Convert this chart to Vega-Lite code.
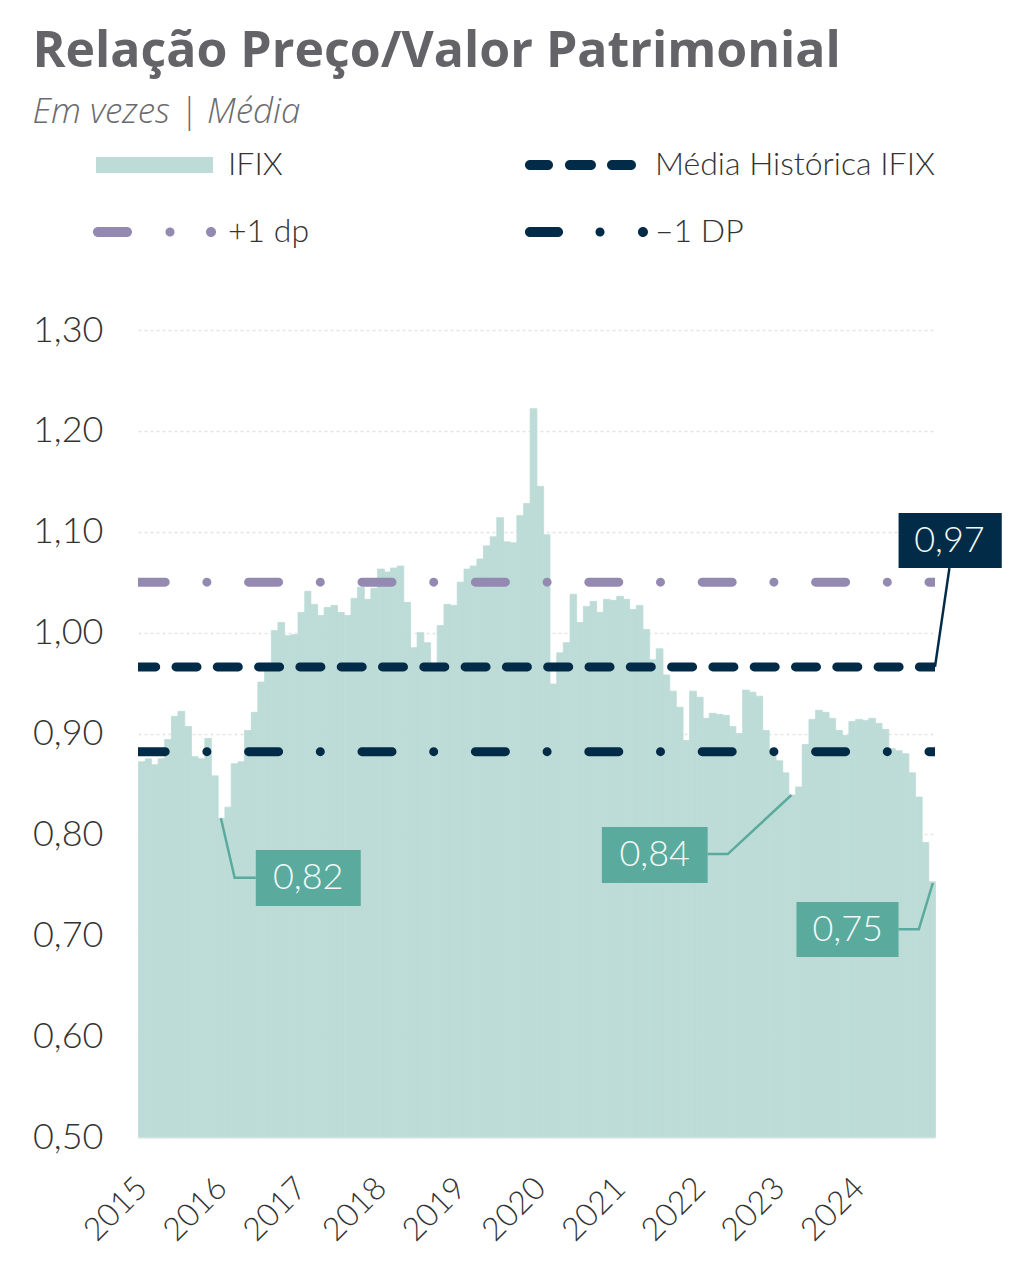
{
  "$schema": "https://vega.github.io/schema/vega-lite/v6.json",
  "width": 797,
  "height": 807,
  "padding": {"left": 32, "top": 27, "right": 9, "bottom": 5},
  "title": {
    "text": "Relação Preço/Valor Patrimonial",
    "subtitle": "Em vezes | Média",
    "anchor": "start",
    "frame": "bounds",
    "font": "Open Sans",
    "fontSize": 50,
    "fontWeight": "bold",
    "color": "#646468",
    "subtitleFont": "Open Sans",
    "subtitleFontSize": 35,
    "subtitleFontStyle": "italic",
    "subtitleFontWeight": 300,
    "subtitleColor": "#6b6b6e",
    "subtitlePadding": 18,
    "offset": 25
  },
  "datasets": {
    "ifix": [
      {"date": "2015-01-01", "pvp": 0.872}, {"date": "2015-02-01", "pvp": 0.875}, {"date": "2015-03-01", "pvp": 0.869},
      {"date": "2015-04-01", "pvp": 0.875}, {"date": "2015-05-01", "pvp": 0.894}, {"date": "2015-06-01", "pvp": 0.917},
      {"date": "2015-07-01", "pvp": 0.922}, {"date": "2015-08-01", "pvp": 0.907}, {"date": "2015-09-01", "pvp": 0.877},
      {"date": "2015-10-01", "pvp": 0.875}, {"date": "2015-11-01", "pvp": 0.895}, {"date": "2015-12-01", "pvp": 0.858},
      {"date": "2016-01-01", "pvp": 0.816}, {"date": "2016-02-01", "pvp": 0.827}, {"date": "2016-03-01", "pvp": 0.870},
      {"date": "2016-04-01", "pvp": 0.872}, {"date": "2016-05-01", "pvp": 0.903}, {"date": "2016-06-01", "pvp": 0.921},
      {"date": "2016-07-01", "pvp": 0.951}, {"date": "2016-08-01", "pvp": 0.962}, {"date": "2016-09-01", "pvp": 1.002},
      {"date": "2016-10-01", "pvp": 1.010}, {"date": "2016-11-01", "pvp": 0.997}, {"date": "2016-12-01", "pvp": 0.998},
      {"date": "2017-01-01", "pvp": 1.020}, {"date": "2017-02-01", "pvp": 1.041}, {"date": "2017-03-01", "pvp": 1.028},
      {"date": "2017-04-01", "pvp": 1.017}, {"date": "2017-05-01", "pvp": 1.025}, {"date": "2017-06-01", "pvp": 1.027},
      {"date": "2017-07-01", "pvp": 1.020}, {"date": "2017-08-01", "pvp": 1.017}, {"date": "2017-09-01", "pvp": 1.034},
      {"date": "2017-10-01", "pvp": 1.045}, {"date": "2017-11-01", "pvp": 1.033}, {"date": "2017-12-01", "pvp": 1.044},
      {"date": "2018-01-01", "pvp": 1.063}, {"date": "2018-02-01", "pvp": 1.060}, {"date": "2018-03-01", "pvp": 1.064},
      {"date": "2018-04-01", "pvp": 1.066}, {"date": "2018-05-01", "pvp": 1.030}, {"date": "2018-06-01", "pvp": 0.985},
      {"date": "2018-07-01", "pvp": 1.000}, {"date": "2018-08-01", "pvp": 0.990}, {"date": "2018-09-01", "pvp": 0.966},
      {"date": "2018-10-01", "pvp": 1.007}, {"date": "2018-11-01", "pvp": 1.028}, {"date": "2018-12-01", "pvp": 1.027},
      {"date": "2019-01-01", "pvp": 1.050}, {"date": "2019-02-01", "pvp": 1.063}, {"date": "2019-03-01", "pvp": 1.066},
      {"date": "2019-04-01", "pvp": 1.073}, {"date": "2019-05-01", "pvp": 1.086}, {"date": "2019-06-01", "pvp": 1.095},
      {"date": "2019-07-01", "pvp": 1.114}, {"date": "2019-08-01", "pvp": 1.090}, {"date": "2019-09-01", "pvp": 1.089},
      {"date": "2019-10-01", "pvp": 1.116}, {"date": "2019-11-01", "pvp": 1.128}, {"date": "2019-12-01", "pvp": 1.222},
      {"date": "2020-01-01", "pvp": 1.145}, {"date": "2020-02-01", "pvp": 1.097}, {"date": "2020-03-01", "pvp": 0.949},
      {"date": "2020-04-01", "pvp": 0.980}, {"date": "2020-05-01", "pvp": 0.990}, {"date": "2020-06-01", "pvp": 1.038},
      {"date": "2020-07-01", "pvp": 1.010}, {"date": "2020-08-01", "pvp": 1.026}, {"date": "2020-09-01", "pvp": 1.031},
      {"date": "2020-10-01", "pvp": 1.020}, {"date": "2020-11-01", "pvp": 1.033}, {"date": "2020-12-01", "pvp": 1.032},
      {"date": "2021-01-01", "pvp": 1.036}, {"date": "2021-02-01", "pvp": 1.033}, {"date": "2021-03-01", "pvp": 1.023},
      {"date": "2021-04-01", "pvp": 1.027}, {"date": "2021-05-01", "pvp": 1.003}, {"date": "2021-06-01", "pvp": 0.973},
      {"date": "2021-07-01", "pvp": 0.984}, {"date": "2021-08-01", "pvp": 0.958}, {"date": "2021-09-01", "pvp": 0.942},
      {"date": "2021-10-01", "pvp": 0.926}, {"date": "2021-11-01", "pvp": 0.893}, {"date": "2021-12-01", "pvp": 0.942},
      {"date": "2022-01-01", "pvp": 0.936}, {"date": "2022-02-01", "pvp": 0.915}, {"date": "2022-03-01", "pvp": 0.920},
      {"date": "2022-04-01", "pvp": 0.919}, {"date": "2022-05-01", "pvp": 0.918}, {"date": "2022-06-01", "pvp": 0.907},
      {"date": "2022-07-01", "pvp": 0.900}, {"date": "2022-08-01", "pvp": 0.943}, {"date": "2022-09-01", "pvp": 0.941},
      {"date": "2022-10-01", "pvp": 0.937}, {"date": "2022-11-01", "pvp": 0.903}, {"date": "2022-12-01", "pvp": 0.885},
      {"date": "2023-01-01", "pvp": 0.873}, {"date": "2023-02-01", "pvp": 0.861}, {"date": "2023-03-01", "pvp": 0.839},
      {"date": "2023-04-01", "pvp": 0.847}, {"date": "2023-05-01", "pvp": 0.889}, {"date": "2023-06-01", "pvp": 0.914},
      {"date": "2023-07-01", "pvp": 0.923}, {"date": "2023-08-01", "pvp": 0.921}, {"date": "2023-09-01", "pvp": 0.915},
      {"date": "2023-10-01", "pvp": 0.903}, {"date": "2023-11-01", "pvp": 0.898}, {"date": "2023-12-01", "pvp": 0.912},
      {"date": "2024-01-01", "pvp": 0.914}, {"date": "2024-02-01", "pvp": 0.913}, {"date": "2024-03-01", "pvp": 0.915},
      {"date": "2024-04-01", "pvp": 0.910}, {"date": "2024-05-01", "pvp": 0.904}, {"date": "2024-06-01", "pvp": 0.885},
      {"date": "2024-07-01", "pvp": 0.883}, {"date": "2024-08-01", "pvp": 0.880}, {"date": "2024-09-01", "pvp": 0.861},
      {"date": "2024-10-01", "pvp": 0.837}, {"date": "2024-11-01", "pvp": 0.792}, {"date": "2024-12-01", "pvp": 0.753}
    ],
    "lines": [
      {"series": "Média Histórica IFIX", "value": 0.966},
      {"series": "+1 dp", "value": 1.050},
      {"series": "–1 DP", "value": 0.882}
    ],
    "notes": [
      {"label": "0,82", "x0": "2016-06-24", "x1": "2017-10-18", "y0": 0.7845, "y1": 0.729, "xt": "2017-02-19", "yt": 0.757},
      {"label": "0,84", "x0": "2020-10-27", "x1": "2022-02-24", "y0": 0.8073, "y1": 0.7518, "xt": "2021-06-26", "yt": 0.7796},
      {"label": "0,75", "x0": "2023-04-07", "x1": "2024-07-18", "y0": 0.733, "y1": 0.6784, "xt": "2023-11-28", "yt": 0.7052},
      {"label": "0,97", "x0": "2024-07-18", "x1": "2025-11-03", "y0": 1.1186, "y1": 1.064, "xt": "2025-03-08", "yt": 1.0908}
    ],
    "leaders": [
      {"label": "0,82", "ord": 1, "date": "2016-01-16", "value": 0.816},
      {"label": "0,82", "ord": 2, "date": "2016-03-19", "value": 0.757},
      {"label": "0,82", "ord": 3, "date": "2016-06-24", "value": 0.757},
      {"label": "0,84", "ord": 1, "date": "2022-02-24", "value": 0.7805},
      {"label": "0,84", "ord": 2, "date": "2022-05-27", "value": 0.7805},
      {"label": "0,84", "ord": 3, "date": "2023-03-15", "value": 0.839},
      {"label": "0,75", "ord": 1, "date": "2024-07-18", "value": 0.706},
      {"label": "0,75", "ord": 2, "date": "2024-10-19", "value": 0.706},
      {"label": "0,75", "ord": 3, "date": "2024-12-22", "value": 0.7518},
      {"label": "0,97", "ord": 1, "date": "2025-03-08", "value": 1.064},
      {"label": "0,97", "ord": 2, "date": "2025-01-01", "value": 0.966}
    ],
    "legend": [
      {"series": "IFIX"},
      {"series": "Média Histórica IFIX"},
      {"series": "+1 dp"},
      {"series": "–1 DP"}
    ]
  },
  "encoding": {
    "x": {
      "type": "temporal",
      "scale": {
        "type": "utc",
        "domain": [{"year": 2015, "month": 1, "date": 1, "utc": true}, {"year": 2025, "month": 1, "date": 1, "utc": true}]
      },
      "axis": {
        "title": null,
        "format": "%Y",
        "values": [
          {"year": 2015, "month": 1, "date": 1, "utc": true}, {"year": 2016, "month": 1, "date": 1, "utc": true},
          {"year": 2017, "month": 1, "date": 1, "utc": true}, {"year": 2018, "month": 1, "date": 1, "utc": true},
          {"year": 2019, "month": 1, "date": 1, "utc": true}, {"year": 2020, "month": 1, "date": 1, "utc": true},
          {"year": 2021, "month": 1, "date": 1, "utc": true}, {"year": 2022, "month": 1, "date": 1, "utc": true},
          {"year": 2023, "month": 1, "date": 1, "utc": true}, {"year": 2024, "month": 1, "date": 1, "utc": true}
        ],
        "labelAngle": -45,
        "labelAlign": "right",
        "labelBaseline": "top",
        "labelPadding": 35,
        "labelOffset": -7,
        "labelFont": "Lato",
        "labelFontSize": 32,
        "labelFontWeight": 300,
        "labelColor": "#333333",
        "labelOverlap": false,
        "ticks": false,
        "grid": false,
        "domainColor": "#E2E8E7",
        "domainWidth": 2.5
      }
    },
    "y": {
      "type": "quantitative",
      "scale": {"domain": [0.5, 1.3], "zero": false, "nice": false},
      "axis": {
        "title": null,
        "values": [0.5, 0.6, 0.7, 0.8, 0.9, 1.0, 1.1, 1.2, 1.3],
        "labelExpr": "replace(format(datum.value, '.2f'), '.', ',')",
        "domain": false,
        "ticks": false,
        "labelPadding": 35,
        "labelFont": "Lato",
        "labelFontSize": 36,
        "labelFontWeight": 300,
        "labelColor": "#333333",
        "grid": true,
        "gridColor": "#E4E4E4",
        "gridDash": [3, 3],
        "gridWidth": 1.5
      }
    }
  },
  "layer": [
    {
      "data": {"name": "ifix"},
      "mark": {"type": "bar", "color": "#BDDCD7", "stroke": "#BDDCD7", "strokeWidth": 0.8, "binSpacing": 0},
      "encoding": {
        "x": {"field": "date", "timeUnit": "utcyearmonth", "type": "temporal"},
        "y": {"field": "pvp"},
        "y2": {"datum": 0.5}
      }
    },
    {
      "data": {"name": "lines"},
      "transform": [{"filter": "datum.series === '+1 dp'"}],
      "mark": {"type": "rule", "color": "#9389B1", "strokeWidth": 9, "strokeCap": "round", "strokeDash": [30, 41.7, 0, 41.7], "strokeDashOffset": 24, "clip": true},
      "encoding": {"y": {"field": "value"}}
    },
    {
      "data": {"name": "lines"},
      "transform": [{"filter": "datum.series === '–1 DP'"}],
      "mark": {"type": "rule", "color": "#022B48", "strokeWidth": 9, "strokeCap": "round", "strokeDash": [30, 41.7, 0, 41.7], "strokeDashOffset": 24, "clip": true},
      "encoding": {"y": {"field": "value"}}
    },
    {
      "data": {"name": "lines"},
      "transform": [{"filter": "datum.series === 'Média Histórica IFIX'"}],
      "mark": {"type": "rule", "color": "#022B48", "strokeWidth": 9, "strokeCap": "round", "strokeDash": [21, 20.3], "strokeDashOffset": 5.4, "clip": true},
      "encoding": {"y": {"field": "value"}}
    },
    {
      "data": {"name": "leaders"},
      "mark": {"type": "line", "strokeWidth": 2.5, "clip": false},
      "encoding": {
        "x": {"field": "date"},
        "y": {"field": "value"},
        "detail": {"field": "label"},
        "order": {"field": "ord"},
        "color": {"condition": {"test": "datum.label === '0,97'", "value": "#022B48"}, "value": "#5BAA9E"}
      }
    },
    {
      "data": {"name": "notes"},
      "mark": {"type": "rect", "clip": false},
      "encoding": {
        "x": {"field": "x0"},
        "x2": {"field": "x1"},
        "y": {"field": "y0"},
        "y2": {"field": "y1"},
        "color": {"condition": {"test": "datum.label === '0,97'", "value": "#022B48"}, "value": "#5BAA9E"}
      }
    },
    {
      "data": {"name": "notes"},
      "mark": {"type": "text", "font": "Lato", "fontSize": 36, "fontWeight": 300, "color": "#F2FAF8", "align": "center", "baseline": "middle", "clip": false},
      "encoding": {
        "x": {"field": "xt"},
        "y": {"field": "yt"},
        "text": {"field": "label"}
      }
    },
    {
      "data": {"name": "legend"},
      "mark": {"type": "point", "filled": true, "opacity": 0, "size": 16900},
      "encoding": {
        "shape": {
          "field": "series",
          "type": "nominal",
          "scale": {
            "domain": ["IFIX", "Média Histórica IFIX", "+1 dp", "–1 DP"],
            "range": [
              "M-0.908,-0.123H0.892V0.123H-0.908Z",
              "M-0.8,-0.077H-0.523A0.077,0.077 0 0 1 -0.523,0.077H-0.8A0.077,0.077 0 0 1 -0.8,-0.077ZM-0.185,-0.077H0.138A0.077,0.077 0 0 1 0.138,0.077H-0.185A0.077,0.077 0 0 1 -0.185,-0.077ZM0.462,-0.077H0.754A0.077,0.077 0 0 1 0.754,0.077H0.462A0.077,0.077 0 0 1 0.462,-0.077Z",
              "M-0.877,-0.077H-0.431A0.077,0.077 0 0 1 -0.431,0.077H-0.877A0.077,0.077 0 0 1 -0.877,-0.077ZM0.161,0A0.07,0.07 0 1 0 0.301,0A0.07,0.07 0 1 0 0.161,0ZM0.785,0A0.077,0.077 0 1 0 0.939,0A0.077,0.077 0 1 0 0.785,0Z",
              "M-0.8,-0.077H-0.369A0.077,0.077 0 0 1 -0.369,0.077H-0.8A0.077,0.077 0 0 1 -0.8,-0.077ZM0.207,0A0.07,0.07 0 1 0 0.347,0A0.07,0.07 0 1 0 0.207,0ZM0.861,0A0.077,0.077 0 1 0 1.015,0A0.077,0.077 0 1 0 0.861,0Z"
            ]
          },
          "legend": {
            "title": null,
            "orient": "none",
            "direction": "horizontal",
            "legendX": -48,
            "legendY": -175,
            "columns": 2,
            "columnPadding": 207,
            "rowPadding": 35,
            "symbolSize": 16900,
            "clipHeight": 20,
            "padding": 0,
            "labelFont": "Lato",
            "labelFontSize": 32,
            "labelFontWeight": 300,
            "labelColor": "#333333",
            "labelOffset": 8,
            "labelLimit": 0,
            "symbolStrokeWidth": 0,
            "encode": {"symbols": {"update": {"opacity": {"value": 1}}}}
          }
        },
        "color": {
          "field": "series",
          "type": "nominal",
          "scale": {
            "domain": ["IFIX", "Média Histórica IFIX", "+1 dp", "–1 DP"],
            "range": ["#BDDCD7", "#022B48", "#9389B1", "#022B48"]
          },
          "legend": {
            "title": null,
            "orient": "none",
            "direction": "horizontal",
            "legendX": -48,
            "legendY": -175,
            "columns": 2,
            "columnPadding": 207,
            "rowPadding": 35,
            "symbolSize": 16900,
            "clipHeight": 20,
            "padding": 0,
            "labelFont": "Lato",
            "labelFontSize": 32,
            "labelFontWeight": 300,
            "labelColor": "#333333",
            "labelOffset": 8,
            "labelLimit": 0,
            "symbolStrokeWidth": 0,
            "encode": {"symbols": {"update": {"opacity": {"value": 1}}}}
          }
        }
      }
    }
  ],
  "config": {
    "view": {"stroke": null},
    "font": "Lato"
  }
}
